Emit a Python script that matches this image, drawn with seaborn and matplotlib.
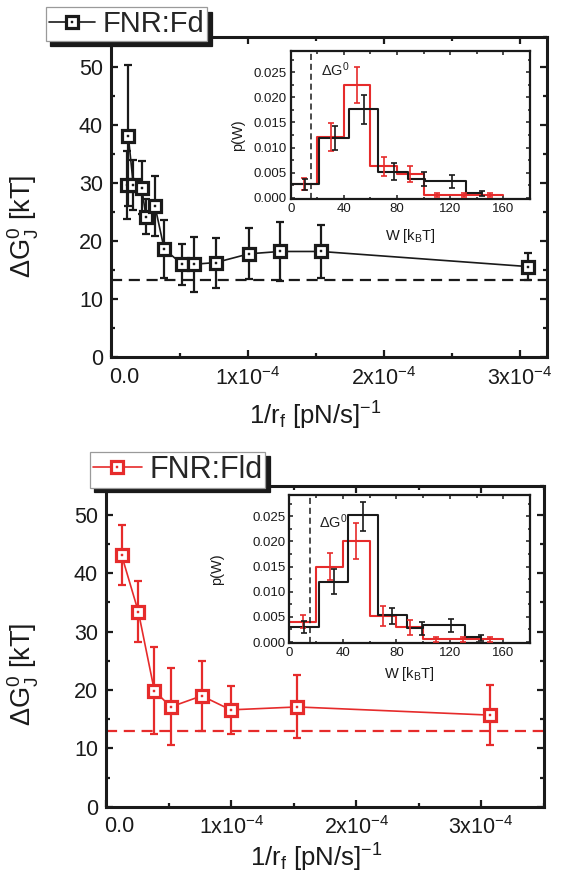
import numpy as np
import matplotlib
matplotlib.use("Agg")
import matplotlib.pyplot as plt
import matplotlib.transforms as mtransforms
import seaborn as sns
from matplotlib.ticker import MultipleLocator, FuncFormatter, FormatStrFormatter
from matplotlib.lines import Line2D
from matplotlib.legend_handler import HandlerTuple

# ---------------- data: top panel (FNR:Fd) ----------------
fd_x = [0.112e-4, 0.124e-4, 0.161e-4, 0.222e-4, 0.254e-4, 0.320e-4, 0.388e-4,
        0.520e-4, 0.608e-4, 0.767e-4, 1.01e-4, 1.237e-4, 1.538e-4, 3.06e-4]
fd_y = [29.6, 38.1, 29.6, 29.2, 24.2, 26.0, 18.6, 16.0, 16.0, 16.3, 17.8, 18.2, 18.2, 15.6]
fd_err = [5.9, 12.1, 4.3, 4.6, 3.0, 5.1, 5.0, 3.5, 4.7, 4.3, 4.4, 5.0, 4.6, 2.3]
fd_level = 13.3

# ---------------- data: bottom panel (FNR:Fld) ----------------
fld_x = [0.122e-4, 0.256e-4, 0.384e-4, 0.515e-4, 0.763e-4, 0.995e-4, 1.528e-4, 3.07e-4]
fld_y = [43.1, 33.4, 19.9, 17.1, 19.0, 16.6, 17.1, 15.7]
fld_err = [5.1, 5.2, 7.4, 6.6, 6.0, 4.1, 5.4, 5.2]
fld_level = 12.9

# ---------------- inset histograms ----------------
red_edges = [0, 20, 40, 60, 80, 100, 120, 140, 160]
top_red_p = [0.0027, 0.0121, 0.0225, 0.0063, 0.0048, 0.0006, 0.0006, 0.0006]
top_red_err = [0.0012, 0.0027, 0.0036, 0.0019, 0.0016, 0.0004, 0.0004, 0.0004]
top_black_edges = [0, 21, 44, 66, 88, 101, 132, 144]
top_black_p = [0.0027, 0.0120, 0.0176, 0.0052, 0.0038, 0.0033, 0.0009]
top_black_errx = [11, 33, 55, 77.5, 100, 121.5, 144]
top_black_erry = [0.0027, 0.0120, 0.0176, 0.0052, 0.0037, 0.0033, 0.0008]
top_black_err = [0.0011, 0.0024, 0.0029, 0.0017, 0.0014, 0.0013, 0.0005]
top_dg = 15.6

bot_red_p = [0.0040, 0.0150, 0.0201, 0.0051, 0.0029, 0.0005, 0.0005, 0.0005]
bot_red_err = [0.0013, 0.0027, 0.0036, 0.0020, 0.0015, 0.0004, 0.0004, 0.0004]
bot_black_edges = [0, 22, 44, 66, 88, 100, 131, 143]
bot_black_p = [0.0029, 0.0120, 0.0252, 0.0053, 0.0027, 0.0034, 0.0010]
bot_black_errx = [11, 33, 55, 77, 99, 121, 143]
bot_black_erry = [0.0030, 0.0120, 0.0250, 0.0052, 0.0027, 0.0033, 0.0008]
bot_black_err = [0.0012, 0.0025, 0.0029, 0.0016, 0.0013, 0.0013, 0.0006]
bot_dg = 15.7

RED = "#e62b2b"

sns.set_theme(style="ticks")
plt.rcParams["font.family"] = ["Liberation Sans", "DejaVu Sans"]
plt.rcParams["mathtext.fontset"] = "custom"
plt.rcParams["mathtext.rm"] = "Liberation Sans"
plt.rcParams["mathtext.it"] = "Liberation Sans:italic"
plt.rcParams["axes.unicode_minus"] = True

fig = plt.figure(figsize=(5.62, 8.84), dpi=100)
fig.patch.set_facecolor("white")
ax1 = fig.add_axes([0.1982, 0.5958, 0.7758, 0.3618])
ins1 = fig.add_axes([0.5173, 0.7749, 0.4258, 0.1674])
ax2 = fig.add_axes([0.1893, 0.0874, 0.7781, 0.3631])
ins2 = fig.add_axes([0.515, 0.2726, 0.4281, 0.1674])


def xfmt(v, pos):
    n = int(round(v / 1e-4))
    if n == 0:
        return "0.0"
    return r"$\mathregular{%dx10^{-4}}$" % n


def style_main(ax, xmax):
    ax.set_facecolor("white")
    ax.set_xlim(0, xmax)
    ax.set_ylim(0, 55)
    ax.xaxis.set_major_locator(MultipleLocator(1e-4))
    ax.xaxis.set_minor_locator(MultipleLocator(0.5e-4))
    ax.yaxis.set_major_locator(MultipleLocator(10))
    ax.yaxis.set_minor_locator(MultipleLocator(5))
    ax.xaxis.set_major_formatter(FuncFormatter(xfmt))
    ax.tick_params(which="both", direction="in", top=True, right=True,
                   width=1.6, colors="k", labelsize=15.5, pad=6)
    ax.tick_params(axis="x", which="major", pad=7)
    ax.tick_params(which="major", length=5)
    ax.tick_params(which="minor", length=2.8)
    for s in ax.spines.values():
        s.set_linewidth(2.2)
        s.set_color("k")
        s.set_visible(True)
    ax.grid(False)


def draw_main(ax, x, y, err, level, color, label, fs, bbox):
    ax.axhline(level, color=color, lw=1.6, ls=(0, (5, 3)), zorder=1)
    ax.errorbar(x, y, yerr=err, fmt="none", ecolor=color, elinewidth=1.6,
                capsize=3.2, capthick=1.6, zorder=2)
    sns.lineplot(x=x, y=y, sort=False, estimator=None, color=color, lw=1.2,
                 ax=ax, legend=False, zorder=3)
    ax.plot(x, y, "s", ms=8.6, mfc="white", mec=color, mew=2.3, zorder=4)
    ax.plot(x, y, "s", ms=1.7, mfc=color, mec=color, mew=0.3, zorder=5)
    h1 = Line2D([], [], color=color, lw=1.2, marker="s", ms=8.6, mfc="white",
                mec=color, mew=2.3)
    h2 = Line2D([], [], ls="none", marker="s", ms=1.7, mfc=color, mec=color, mew=0.3)
    leg = ax.legend([(h1, h2)], [label], handler_map={tuple: HandlerTuple(ndivide=1)},
                    loc="upper left", bbox_to_anchor=bbox, bbox_transform=fig.transFigure,
                    borderaxespad=0, borderpad=0.1, handlelength=1.6, handletextpad=0.25,
                    fontsize=fs, fancybox=False, framealpha=1, edgecolor="#9a9a9a",
                    shadow={"ox": 3.3, "oy": -3.3, "facecolor": "k", "edgecolor": "k",
                            "alpha": 1})
    leg.get_frame().set_linewidth(0.9)
    leg.set_zorder(20)
    ax.set_ylabel(r"$\mathregular{ΔG_J^0}$ [kT]", fontsize=19.5, color="k")
    ax.set_xlabel(r"1/r$_\mathregular{f}$ [pN/s]$^\mathregular{-1}$", fontsize=18.5, color="k")


def draw_inset(ins, red_p, red_err, bk_edges, bk_p, bk_ex, bk_ey, bk_err, dg, txt_xy):
    ins.set_facecolor("white")
    red_c = [(a + b) / 2 for a, b in zip(red_edges[:-1], red_edges[1:])]
    bk_c = [(a + b) / 2 for a, b in zip(bk_edges[:-1], bk_edges[1:])]
    sns.histplot(x=red_c, weights=red_p, bins=red_edges, element="step", fill=False,
                 color=RED, linewidth=1.5, ax=ins)
    sns.histplot(x=bk_c, weights=bk_p, bins=bk_edges, element="step", fill=False,
                 color="k", linewidth=1.5, ax=ins)
    ins.errorbar(red_c, red_p, yerr=red_err, fmt="none", ecolor=RED, elinewidth=1.2,
                 capsize=2.2, capthick=1.2, zorder=4)
    ins.errorbar(bk_ex, bk_ey, yerr=bk_err, fmt="none", ecolor="k", elinewidth=1.2,
                 capsize=2.2, capthick=1.2, zorder=5)
    ins.axvline(dg, color="k", lw=1.1, ls=(0, (4, 2.5)), zorder=3)
    ins.text(txt_xy[0], txt_xy[1], r"$\mathregular{ΔG^0}$", fontsize=10.5, color="#222222")
    ins.set_xlim(0, 180)
    ins.set_ylim(-0.0002, 0.0292)
    ins.xaxis.set_major_locator(MultipleLocator(40))
    ins.xaxis.set_minor_locator(MultipleLocator(20))
    ins.yaxis.set_major_locator(MultipleLocator(0.005))
    ins.yaxis.set_minor_locator(MultipleLocator(0.0025))
    ins.yaxis.set_major_formatter(FormatStrFormatter("%.3f"))
    ins.tick_params(which="both", direction="in", top=True, right=True, width=1.1,
                    colors="k", labelsize=9.5, pad=3)
    ins.tick_params(which="major", length=3.2)
    ins.tick_params(which="minor", length=1.8)
    for s in ins.spines.values():
        s.set_linewidth(1.6)
        s.set_color("k")
    ins.set_xlabel(r"W [k$_\mathregular{B}$T]", fontsize=10.5, color="k")
    ins.set_ylabel("p(W)", fontsize=10.5, color="k")
    ins.grid(False)


# ---- top panel
style_main(ax1, 3.2e-4)
draw_main(ax1, fd_x, fd_y, fd_err, fd_level, "k", "FNR:Fd", 21, (0.0813, 0.9917))
ax1.yaxis.set_label_coords(-0.162, 0.41)
ax1.xaxis.set_label_coords(0.467, -0.133)
draw_inset(ins1, top_red_p, top_red_err, top_black_edges, top_black_p,
           top_black_errx, top_black_erry, top_black_err, top_dg, (23.1, 0.0242))
ins1.yaxis.set_label_coords(-0.19, 0.43)
ins1.xaxis.set_label_coords(0.5, -0.19)

# ---- bottom panel
style_main(ax2, 3.5e-4)
draw_main(ax2, fld_x, fld_y, fld_err, fld_level, RED, "FNR:Fld", 22, (0.1594, 0.489))
ax2.yaxis.set_label_coords(-0.15, 0.413)
ax2.xaxis.set_label_coords(0.48, -0.11)
draw_inset(ins2, bot_red_p, bot_red_err, bot_black_edges, bot_black_p,
           bot_black_errx, bot_black_erry, bot_black_err, bot_dg, (22.4, 0.0226))
ins2.yaxis.set_label_coords(-0.272, 0.5)
ins2.xaxis.set_label_coords(0.5, -0.15)

# shift the "0.0" x tick label to the right, as in the original figure
fig.canvas.draw()
shift = mtransforms.ScaledTranslation(9 / 72, 0, fig.dpi_scale_trans)
for ax in (ax1, ax2):
    for t in ax.xaxis.get_major_ticks():
        if t.label1.get_text() == "0.0":
            t.label1.set_transform(t.label1.get_transform() + shift)

fig.savefig("out.png", dpi=100, facecolor="white")
